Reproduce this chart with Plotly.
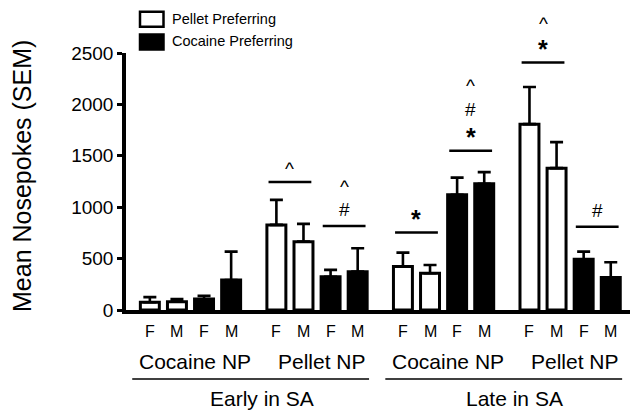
import plotly.graph_objects as go

# ---------------- data ----------------
periods = ["Early in SA", "Late in SA"]
np_types = ["Cocaine NP", "Pellet NP", "Cocaine NP", "Pellet NP"]
sexes = ["F", "M"]
series_names = ["Pellet Preferring", "Cocaine Preferring"]

# order: for each of the 4 NP groups -> F, M
pellet_pref_mean = [75, 80, 828, 665, 422, 357, 1808, 1380]
pellet_pref_sem = [50, 26, 243, 173, 136, 81, 361, 253]
cocaine_pref_mean = [107, 292, 324, 373, 1120, 1227, 494, 315]
cocaine_pref_sem = [32, 276, 66, 228, 168, 114, 74, 150]

y_ticks = [0, 500, 1000, 1500, 2000, 2500]

# significance: group index, series index, height of line, symbols bottom->top
sig_group = [1, 1, 2, 2, 3, 3]
sig_series = [0, 1, 0, 1, 0, 1]
sig_level = [1244, 818, 753, 1548, 2408, 811]
sig_symbols = [["^"], ["#", "^"], ["*"], ["*", "#", "^"], ["*", "^"], ["#"]]

# ---------------- layout helpers ----------------
W, H = 630, 413
ML, MR, MT, MB = 126, 0, 53, 103
PW, PH = W - ML - MR, H - MT - MB
GROUP_STEP = 4.67
FONT = "Liberation Sans, Arial, sans-serif"


def px_x(px):
    return (px - ML) / PW


def px_y(py):
    return (H - MB - py) / PH


def pos(group, series, sex):
    return group * GROUP_STEP + series * 2 + sex


fig = go.Figure()

series_means = [pellet_pref_mean, cocaine_pref_mean]
series_sems = [pellet_pref_sem, cocaine_pref_sem]
series_colors = ["white", "black"]
for s in range(2):
    xs, ys, es = [], [], []
    for g in range(4):
        for k in range(2):
            xs.append(pos(g, s, k))
            ys.append(series_means[s][g * 2 + k])
            es.append(series_sems[s][g * 2 + k])
    fig.add_trace(go.Bar(
        x=xs, y=ys, width=0.70, name=series_names[s],
        marker=dict(color=series_colors[s], line=dict(color="black", width=3)),
        error_y=dict(type="data", symmetric=False, array=es,
                     arrayminus=[0] * len(es), color="black",
                     thickness=2.6, width=6.5),
        showlegend=False,
    ))

shapes = []
annotations = []

# significance lines and symbols
sym_size = {"^": 19, "#": 19, "*": 25}
sym_bold = {"^": "normal", "#": "normal", "*": "bold"}
sym_glyph_off = {"^": 3, "#": 0.5, "*": 3.5}   # glyph centre above text-box centre (px)
desired = [17, 42, 68]                          # glyph centre above the line (px)
for gi, si, lvl, syms in zip(sig_group, sig_series, sig_level, sig_symbols):
    c = pos(gi, si, 0.5)
    shapes.append(dict(type="line", xref="x", yref="y", x0=c - 0.79, x1=c + 0.79,
                       y0=lvl, y1=lvl, line=dict(color="black", width=2.5)))
    prev_shift, prev_half = None, None
    for j, sym in enumerate(syms):
        half = 1.117 * sym_size[sym] / 2
        shift = desired[j] - sym_glyph_off[sym]
        if prev_shift is not None:
            shift = max(shift, prev_shift + prev_half + half + 0.8)
        annotations.append(dict(x=c, y=lvl, xref="x", yref="y", text=sym,
                                showarrow=False, xanchor="center", yanchor="middle",
                                yshift=shift, borderpad=0,
                                font=dict(size=sym_size[sym], family=FONT, color="black",
                                          weight=sym_bold[sym])))
        prev_shift, prev_half = shift, half

# x category labels
for g in range(4):
    for s in range(2):
        for k in range(2):
            annotations.append(dict(x=pos(g, s, k), y=px_y(331), xref="x", yref="paper",
                                    text=sexes[k], showarrow=False, xanchor="center",
                                    yanchor="middle", font=dict(size=16, family=FONT, color="black")))
    annotations.append(dict(x=pos(g, 0, 1.5) + 0.18, y=px_y(361), xref="x", yref="paper",
                            text=np_types[g], showarrow=False, xanchor="center",
                            yanchor="middle", font=dict(size=21, family=FONT, color="black")))
for p in range(2):
    first = pos(2 * p, 0, 0)
    last = pos(2 * p + 1, 1, 1)
    shapes.append(dict(type="line", xref="x", yref="paper", x0=first - 0.65, x1=last + 0.42,
                       y0=px_y(379), y1=px_y(379), line=dict(color="black", width=1.5)))
    annotations.append(dict(x=(first + last) / 2 + 0.3, y=px_y(398), xref="x", yref="paper",
                            text=periods[p], showarrow=False, xanchor="center",
                            yanchor="middle", font=dict(size=21, family=FONT, color="black")))

# y title
annotations.append(dict(x=px_x(22), y=px_y(176), xref="paper", yref="paper",
                        text="Mean Nosepokes (SEM)", textangle=-90, showarrow=False,
                        xanchor="center", yanchor="middle",
                        font=dict(size=25, family=FONT, color="black")))

# legend
leg_y = [19.2, 42.0]
for s in range(2):
    shapes.append(dict(type="rect", xref="paper", yref="paper",
                       x0=px_x(140), x1=px_x(163.5), y0=px_y(leg_y[s] - 7.5), y1=px_y(leg_y[s] + 7.5),
                       fillcolor=series_colors[s], line=dict(color="black", width=2.5)))
    annotations.append(dict(x=px_x(170), y=px_y(leg_y[s] - 0.5), xref="paper", yref="paper",
                            text=series_names[s], showarrow=False, xanchor="left",
                            yanchor="middle", font=dict(size=14.5, family=FONT, color="black")))

fig.update_layout(
    width=W, height=H,
    margin=dict(l=ML, r=MR, t=MT, b=MB, pad=0),
    paper_bgcolor="white", plot_bgcolor="white",
    barmode="overlay",
    shapes=shapes, annotations=annotations,
    xaxis=dict(range=[-0.88, 17.72], showline=True, linecolor="black", linewidth=3.5,
               showticklabels=False, ticks="", showgrid=False, zeroline=False),
    yaxis=dict(range=[0, 2500], tickvals=y_ticks, ticktext=[str(v) for v in y_ticks],
               showline=True, linecolor="black", linewidth=3.5, ticks="outside",
               ticklen=5, tickwidth=3, tickcolor="black", showgrid=False, zeroline=False,
               tickfont=dict(size=19, family=FONT, color="black")),
    font=dict(family=FONT, color="black"),
)

fig.write_html("out.html")
